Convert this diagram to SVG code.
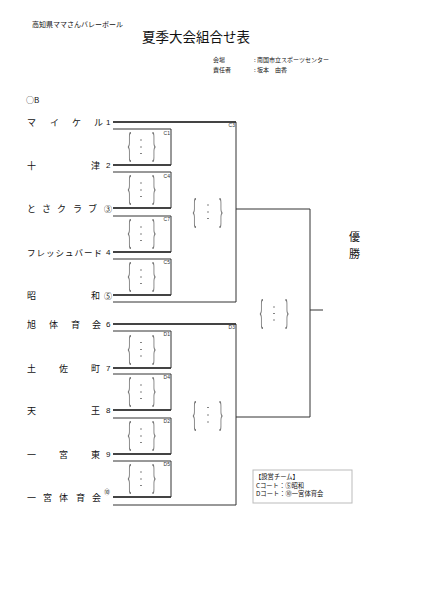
<svg xmlns="http://www.w3.org/2000/svg" width="424" height="600" viewBox="0 0 424 600">
<defs>
<filter id="gs" x="-50%" y="-20%" width="200%" height="140%"><feOffset dx="0" dy="0"/></filter>
<style>
.t{font-family:"Noto Sans CJK JP",sans-serif;fill:#111}
.nm{font-size:9px}
.num{font-family:"Liberation Sans","Noto Sans CJK JP",sans-serif;font-size:8px;fill:#111}
.lbl{font-family:"Liberation Sans",sans-serif;font-size:5px;text-anchor:end;fill:#333}
.tl{stroke:#444;stroke-width:1.8;fill:none}
.bl{stroke:#333;stroke-width:1;fill:none}
.br{font-family:"Liberation Sans",sans-serif;font-size:10px;fill:#777;text-anchor:middle;filter:url(#gs)}
.dt{stroke:#666;stroke-width:1}
</style>
</defs>
<rect width="424" height="600" fill="#fff"/>

<g id="header">
<text class="t" x="32" y="27" font-size="7">高知県ママさんバレーボール</text>
<text class="t" x="142" y="42" font-size="13.5">夏季大会組合せ表</text>
<text class="t" x="213" y="62" font-size="6">会場</text>
<text class="t" x="254" y="62" font-size="6">: 南国市立スポーツセンター</text>
<text class="t" x="213" y="72" font-size="6">責任者</text>
<text class="t" x="254" y="72" font-size="6">: 坂本　由香</text>
<text class="t" x="26" y="103" font-size="8">○B</text>
</g>

<g id="connectors">
<path class="tl" d="M113 122 H236"/>
<path class="tl" d="M113 165 H171"/>
<path class="tl" d="M113 208 H171"/>
<path class="tl" d="M113 252 H171"/>
<path class="tl" d="M113 295 H171"/>
<path class="tl" d="M113 324 H236"/>
<path class="tl" d="M113 368 H171"/>
<path class="tl" d="M113 410 H171"/>
<path class="tl" d="M113 454 H171"/>
<path class="tl" d="M113 497 H171"/>
<path class="bl" d="M113 129 H171 V165"/>
<path class="bl" d="M113 172 H171 V208"/>
<path class="bl" d="M113 216 H171 V252"/>
<path class="bl" d="M113 259 H171 V295"/>
<path class="bl" d="M236 122 V302 H113"/>
<path class="bl" d="M113 331 H171 V368"/>
<path class="bl" d="M113 374 H171 V410"/>
<path class="bl" d="M113 418 H171 V454"/>
<path class="bl" d="M113 461 H171 V497"/>
<path class="bl" d="M236 324 V505 H113"/>
<path class="bl" d="M236 209 H310 V417 H236"/>
<path class="bl" d="M310 310 H323"/>
</g>

<g id="team1"><text class="t nm" y="126"><tspan x="27">マ</tspan><tspan x="50">イ</tspan><tspan x="72">ケ</tspan><tspan x="94">ル</tspan></text><text class="num" x="106" y="125">1</text></g>
<g id="team2"><text class="t nm" y="169"><tspan x="27">十</tspan><tspan x="91">津</tspan></text><text class="num" x="106" y="168">2</text></g>
<g id="team3"><text class="t nm" y="212"><tspan x="27">と</tspan><tspan x="42">さ</tspan><tspan x="57">ク</tspan><tspan x="73">ラ</tspan><tspan x="88">ブ</tspan></text><text class="t" x="104" y="211.5" font-size="8">③</text></g>
<g id="team4"><text class="t" x="27" y="256" font-size="8.5" textLength="75">フレッシュバード</text><text class="num" x="106" y="255">4</text></g>
<g id="team5"><text class="t nm" y="299"><tspan x="27">昭</tspan><tspan x="91">和</tspan></text><text class="t" x="104" y="298.5" font-size="8">⑤</text></g>
<g id="team6"><text class="t nm" y="328"><tspan x="27">旭</tspan><tspan x="49">体</tspan><tspan x="71">育</tspan><tspan x="92">会</tspan></text><text class="num" x="106" y="327">6</text></g>
<g id="team7"><text class="t nm" y="372"><tspan x="27">土</tspan><tspan x="59">佐</tspan><tspan x="91">町</tspan></text><text class="num" x="106" y="371">7</text></g>
<g id="team8"><text class="t nm" y="414"><tspan x="27">天</tspan><tspan x="91">王</tspan></text><text class="num" x="106" y="413">8</text></g>
<g id="team9"><text class="t nm" y="458"><tspan x="27">一</tspan><tspan x="59">宮</tspan><tspan x="91">東</tspan></text><text class="num" x="106" y="457">9</text></g>
<g id="team10"><text class="t nm" y="501"><tspan x="27">一</tspan><tspan x="43">宮</tspan><tspan x="59">体</tspan><tspan x="76">育</tspan><tspan x="92">会</tspan></text><text class="t" x="104" y="494" font-size="6">⑩</text></g>

<g id="C1"><text class="lbl" x="170" y="134.5">C1</text>
<text class="br" transform="translate(129.5 147) scale(1 3.2)" y="2.6">{</text><text class="br" transform="translate(154 147) scale(1 3.2)" y="2.6">}</text>
<path class="dt" d="M140.2 140 h1.6 M140.2 147 h1.6 M140.2 153.5 h1.6"/></g>
<g id="C4"><text class="lbl" x="170" y="177.5">C4</text>
<text class="br" transform="translate(129.5 190) scale(1 3.2)" y="2.6">{</text><text class="br" transform="translate(154 190) scale(1 3.2)" y="2.6">}</text>
<path class="dt" d="M140.2 183 h1.6 M140.2 190 h1.6 M140.2 196.5 h1.6"/></g>
<g id="C7"><text class="lbl" x="170" y="221">C7</text>
<text class="br" transform="translate(129.5 234) scale(1 3.2)" y="2.6">{</text><text class="br" transform="translate(154 234) scale(1 3.2)" y="2.6">}</text>
<path class="dt" d="M140.2 227 h1.6 M140.2 234 h1.6 M140.2 240.5 h1.6"/></g>
<g id="C5"><text class="lbl" x="170" y="264">C5</text>
<text class="br" transform="translate(129.5 277) scale(1 3.2)" y="2.6">{</text><text class="br" transform="translate(154 277) scale(1 3.2)" y="2.6">}</text>
<path class="dt" d="M140.2 270 h1.6 M140.2 277 h1.6 M140.2 283.5 h1.6"/></g>
<g id="C3"><text class="lbl" x="235" y="127">C3</text>
<text class="br" transform="translate(194.5 212.5) scale(1 3.2)" y="2.6">{</text><text class="br" transform="translate(221 212.5) scale(1 3.2)" y="2.6">}</text>
<path class="dt" d="M207.2 205 h1.6 M207.2 212 h1.6 M207.2 218.5 h1.6"/></g>

<g id="D1"><text class="lbl" x="170" y="336">D1</text>
<text class="br" transform="translate(129.5 349.5) scale(1 3.2)" y="2.6">{</text><text class="br" transform="translate(154 349.5) scale(1 3.2)" y="2.6">}</text>
<path class="dt" d="M140.2 342.5 h1.6 M140.2 349.5 h1.6 M140.2 356 h1.6"/></g>
<g id="D4"><text class="lbl" x="170" y="379">D4</text>
<text class="br" transform="translate(129.5 392) scale(1 3.2)" y="2.6">{</text><text class="br" transform="translate(154 392) scale(1 3.2)" y="2.6">}</text>
<path class="dt" d="M140.2 385 h1.6 M140.2 392 h1.6 M140.2 398.5 h1.6"/></g>
<g id="D2"><text class="lbl" x="170" y="423">D2</text>
<text class="br" transform="translate(129.5 436) scale(1 3.2)" y="2.6">{</text><text class="br" transform="translate(154 436) scale(1 3.2)" y="2.6">}</text>
<path class="dt" d="M140.2 429 h1.6 M140.2 436 h1.6 M140.2 442.5 h1.6"/></g>
<g id="D5"><text class="lbl" x="170" y="466">D5</text>
<text class="br" transform="translate(129.5 479) scale(1 3.2)" y="2.6">{</text><text class="br" transform="translate(154 479) scale(1 3.2)" y="2.6">}</text>
<path class="dt" d="M140.2 472 h1.6 M140.2 479 h1.6 M140.2 485.5 h1.6"/></g>
<g id="D3"><text class="lbl" x="235" y="329">D3</text>
<text class="br" transform="translate(194.5 416) scale(1 3.2)" y="2.6">{</text><text class="br" transform="translate(221 416) scale(1 3.2)" y="2.6">}</text>
<path class="dt" d="M207.2 407.5 h1.6 M207.2 415 h1.6 M207.2 422 h1.6"/></g>

<g id="final">
<text class="br" transform="translate(261.5 314) scale(1 3.2)" y="2.6">{</text><text class="br" transform="translate(287 314) scale(1 3.2)" y="2.6">}</text>
<path class="dt" d="M273.2 307 h1.6 M273.2 313.5 h1.6 M273.2 320 h1.6"/>
<text class="t" x="349" y="241" font-size="11">優</text>
<text class="t" x="349" y="258" font-size="11">勝</text>
</g>

<g id="legend">
<rect x="253" y="470" width="99" height="33" fill="#fff" stroke="#bbb" stroke-width="1"/>
<text class="t" x="255" y="479" font-size="6.3">【設営チーム】</text>
<text class="t" x="256" y="487.5" font-size="6.3">Cコート：⑤昭和</text>
<text class="t" x="256" y="496" font-size="6.3">Dコート：⑩一宮体育会</text>
</g>
</svg>
